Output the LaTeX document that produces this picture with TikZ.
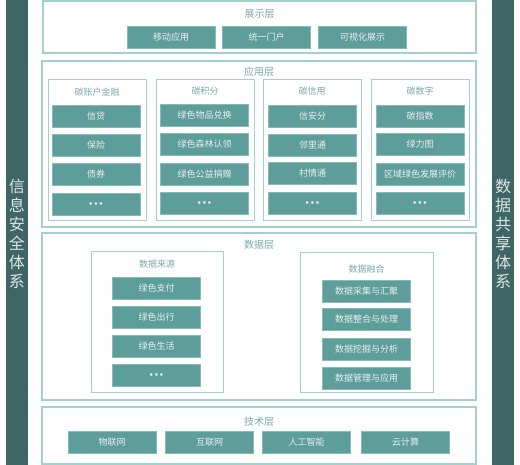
\documentclass[tikz,border=0pt]{standalone}
\usepackage{fontspec}
\setmainfont{Noto Sans CJK SC}
\definecolor{btnfill}{HTML}{5E9E9A}
\definecolor{btnline}{HTML}{86BBB8}
\definecolor{btntext}{HTML}{E8F0EF}
\definecolor{boxline}{HTML}{A3CFCF}
\definecolor{ttltext}{HTML}{7AA8A6}
\definecolor{bardark}{HTML}{3F6664}
\definecolor{bartext}{HTML}{DCE6E5}

\tikzset{
  btn/.style={fill=btnfill, draw=btnline, line width=0.8pt, text=btntext,
    minimum width=88pt, minimum height=22pt, inner sep=0pt,
    font=\fontsize{9}{9}\selectfont},
  layerbox/.style={draw=boxline, line width=1.3pt},
  groupbox/.style={draw=boxline, line width=1pt},
  ttl/.style={text=ttltext, inner sep=0pt, font=\fontsize{10}{10}\selectfont},
  subttl/.style={text=ttltext, inner sep=0pt, font=\fontsize{9}{9}\selectfont},
  sidebar/.style={fill=bardark},
  sidetext/.style={text=bartext, align=center, inner sep=0pt,
    font=\fontsize{16}{19}\selectfont}
}
\newcommand{\moredots}{{\fontsize{6}{6}\selectfont$\bullet\mkern-1mu\bullet\mkern-1mu\bullet$}}

\begin{document}
\begin{tikzpicture}[x=1pt,y=-1pt]

    \useasboundingbox (0,0) rectangle (520,465);

    % Side bars
    \fill[sidebar] (6,0) rectangle (28,465); % Left bar
    \fill[sidebar] (492,0) rectangle (514,465); % Right bar
    \node[sidetext] (safe) at (17,234) {信\\息\\安\\全\\体\\系};
    \node[sidetext] (share) at (503,234) {数\\据\\共\\享\\体\\系};

    % Display layer
    \draw[layerbox] (43,1) rectangle (476,53);
    \node[ttl] (show) at (259.5,14) {展示层};
    \node[btn] (mobile) at (171,37) {移动应用};
    \node[btn] (portal) at (266.5,37) {统一门户};
    \node[btn] (visual) at (362.5,37) {可视化展示};

    % Application layer
    \draw[layerbox] (42,61) rectangle (476,227);
    \node[ttl] (app) at (259,72) {应用层};

    \draw[groupbox] (48,80) rectangle (146,221); % Carbon account finance
    \node[subttl] (finance) at (97,92) {碳账户金融};
    \node[btn] (loan) at (96,116) {信贷};
    \node[btn] (insure) at (96,145) {保险};
    \node[btn] (bond) at (96,174.5) {债券};
    \node[btn] (finmore) at (96,204) {\moredots};

    \draw[groupbox] (156,80) rectangle (254,221); % Carbon points
    \node[subttl] (points) at (205,91) {碳积分};
    \node[btn] (goods) at (204.5,115) {绿色物品兑换};
    \node[btn] (forest) at (204.5,144) {绿色森林认领};
    \node[btn] (donate) at (204.5,174) {绿色公益捐赠};
    \node[btn] (ptmore) at (204.5,203.5) {\moredots};

    \draw[groupbox] (263,80) rectangle (361,221); % Carbon credit
    \node[subttl] (credit) at (312,91) {碳信用};
    \node[btn] (score) at (312.5,116) {信安分};
    \node[btn] (neigh) at (312.5,145) {邻里通};
    \node[btn] (village) at (312.5,173) {村情通};
    \node[btn] (crmore) at (312.5,203) {\moredots};

    \draw[groupbox] (371,80) rectangle (469,221); % Carbon digital
    \node[subttl] (digital) at (420,91) {碳数字};
    \node[btn] (index) at (420,116) {碳指数};
    \node[btn] (power) at (420,144) {绿力图};
    \node[btn] (region) at (420,174) {区域绿色发展评价};
    \node[btn] (dgmore) at (420,203.5) {\moredots};

    % Data layer
    \draw[layerbox] (42,233) rectangle (476,400);
    \node[ttl] (data) at (259,245) {数据层};

    \draw[groupbox] (91,252) rectangle (223,393); % Data sources
    \node[subttl] (source) at (157,264) {数据来源};
    \node[btn] (pay) at (156.5,288) {绿色支付};
    \node[btn] (travel) at (156.5,317) {绿色出行};
    \node[btn] (life) at (156.5,346) {绿色生活};
    \node[btn] (srcmore) at (156.5,375) {\moredots};

    \draw[groupbox] (300,253) rectangle (433,393); % Data fusion
    \node[subttl] (fusion) at (366.5,269) {数据融合};
    \node[btn] (collect) at (366.5,291) {数据采集与汇聚};
    \node[btn] (process) at (366.5,319.5) {数据整合与处理};
    \node[btn] (mining) at (366.5,349) {数据挖掘与分析};
    \node[btn] (manage) at (366.5,378) {数据管理与应用};

    % Technology layer
    \draw[layerbox] (42,407) rectangle (476,464);
    \node[ttl] (tech) at (259,422) {技术层};
    \node[btn] (iot) at (112,442) {物联网};
    \node[btn] (internet) at (209.5,442) {互联网};
    \node[btn] (ai) at (306.5,442) {人工智能};
    \node[btn] (cloud) at (405.5,442) {云计算};

\end{tikzpicture}
\end{document}
